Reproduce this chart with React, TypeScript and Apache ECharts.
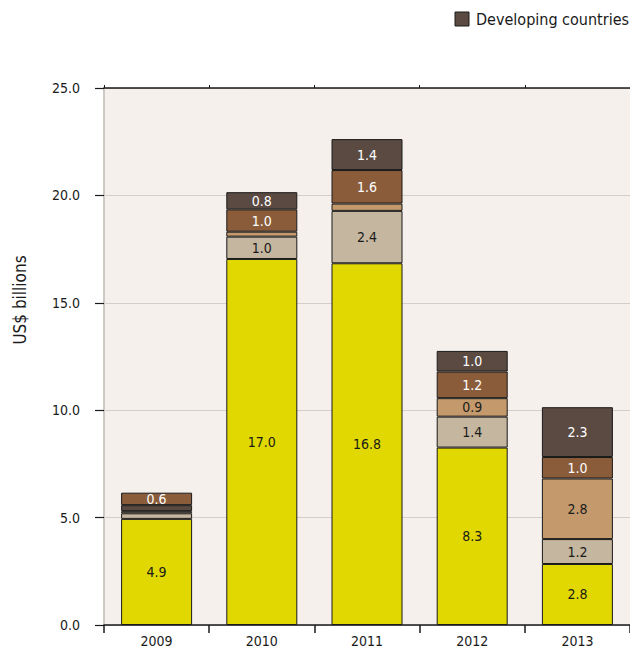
import React, { useEffect, useRef } from "react";
import * as echarts from "echarts";

const years = ["2009", "2010", "2011", "2012", "2013"];
const seriesYellow = [4.94, 17.04, 16.84, 8.26, 2.84];
const seriesGrayTan = [0.26, 1.04, 2.44, 1.44, 1.16];
const seriesTanOrange = [0.1, 0.23, 0.34, 0.86, 2.82];
const developingLow = [0.28, null, null, null, null];
const seriesBrown = [0.58, 1.04, 1.56, 1.24, 1.0];
const developingTop = [null, 0.8, 1.44, 0.96, 2.32];
const yTicks = [0, 5, 10, 15, 20, 25];

const FONT = "'DejaVu Sans Condensed', 'Open Sans', sans-serif";

export default function App() {
  const ref = useRef<HTMLDivElement>(null);
  useEffect(() => {
    if (!ref.current) return;
    const chart = echarts.init(ref.current, null, { renderer: "svg" });
    const fmt = (p: any) => (p.value != null && p.value >= 0.5 ? Number(p.value).toFixed(1) : "");
    const mk = (name: string, data: any[], color: string, labelColor: string) => ({
      name,
      type: "bar",
      stack: "total",
      data,
      barWidth: 71,
      itemStyle: { color, borderColor: "#1a1a1a", borderWidth: 1 },
      label: {
        show: true,
        position: "inside",
        formatter: fmt,
        color: labelColor,
        fontSize: 14,
        fontFamily: FONT,
      },
      emphasis: { disabled: true },
    });
    chart.setOption({
      animation: false,
      textStyle: { fontFamily: FONT },
      legend: {
        data: ["Developing countries"],
        right: 1,
        top: 11,
        padding: 0,
        itemWidth: 14,
        itemHeight: 14,
        itemGap: 6,
        icon: "rect",
        itemStyle: { borderColor: "#1a1a1a", borderWidth: 1 },
        textStyle: { fontSize: 16, color: "#1a1a1a", fontFamily: FONT, padding: [0, 0, 0, 2] },
      },
      grid: {
        left: 104,
        top: 88,
        width: 533,
        height: 537,
        show: true,
        backgroundColor: "#f5f0ec",
        borderWidth: 0,
      },
      xAxis: [
        {
          type: "category",
          data: years,
          position: "bottom",
          axisLine: { lineStyle: { color: "#1a1a1a", width: 1.5 } },
          axisTick: { show: true, length: 8, lineStyle: { color: "#1a1a1a", width: 1.5 } },
          axisLabel: { fontSize: 14, color: "#1a1a1a", margin: 9, fontFamily: FONT },
        },
        {
          type: "category",
          data: years,
          position: "top",
          axisLine: { lineStyle: { color: "#1a1a1a", width: 1.5 } },
          axisTick: { show: true, length: 3, lineStyle: { color: "#1a1a1a" } },
          axisLabel: { show: false },
        },
      ],
      yAxis: {
        type: "value",
        min: yTicks[0],
        max: yTicks[yTicks.length - 1],
        interval: 5,
        axisLine: { show: true, lineStyle: { color: "#cfc9c4", width: 2 } },
        axisTick: { show: true, length: 9, lineStyle: { color: "#1a1a1a", width: 1.2 } },
        axisLabel: {
          fontSize: 14,
          color: "#1a1a1a",
          margin: 24,
          fontFamily: FONT,
          formatter: (v: number) => v.toFixed(1),
        },
        splitLine: { show: true, lineStyle: { color: "#d3cec9", width: 1 } },
      },
      graphic: [
        {
          type: "text",
          x: 20,
          y: 300,
          rotation: Math.PI / 2,
          style: {
            text: "US$ billions",
            fontSize: 17,
            fill: "#1a1a1a",
            fontFamily: FONT,
            textAlign: "center",
            textVerticalAlign: "middle",
          },
        },
      ],
      series: [
        mk("Segment A", seriesYellow, "#e0d800", "#1a1a1a"),
        mk("Segment B", seriesGrayTan, "#c5b69f", "#1a1a1a"),
        mk("Segment C", seriesTanOrange, "#c49a6c", "#1a1a1a"),
        mk("Developing countries", developingLow, "#5a4a41", "#fff"),
        mk("Segment D", seriesBrown, "#8a5c3a", "#fff"),
        mk("Developing countries", developingTop, "#5a4a41", "#fff"),
      ],
    });
    return () => chart.dispose();
  }, []);
  return (
    <div
      ref={ref}
      style={{ position: "absolute", left: 0, top: 0, width: 630, height: 652 }}
    />
  );
}
